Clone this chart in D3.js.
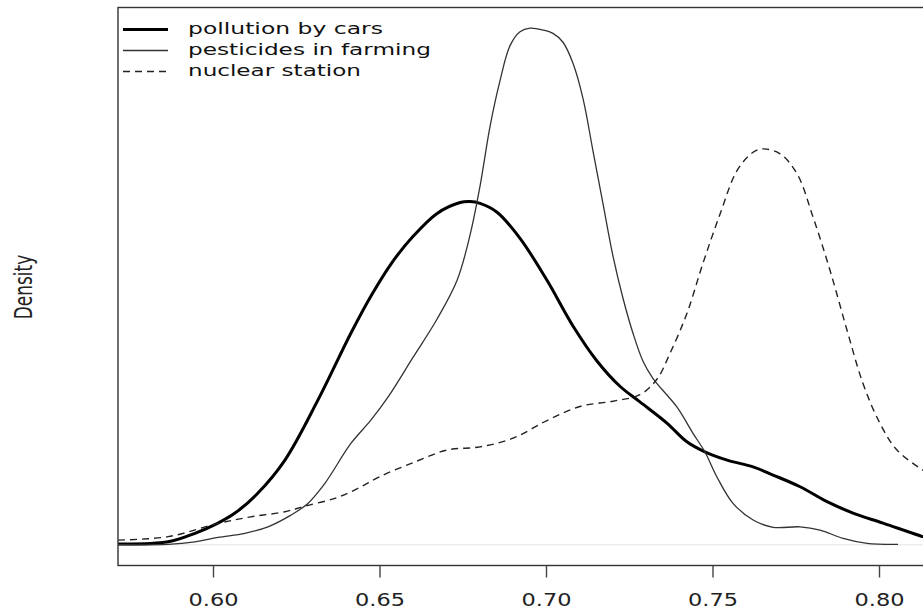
<!DOCTYPE html>
<html><head><meta charset="utf-8">
<script src="https://cdn.jsdelivr.net/npm/d3@7"></script>
<style>html,body{margin:0;padding:0;background:#fff;} svg{display:block;}</style>
</head><body>
<svg id="chart" width="923" height="613"></svg>
<script>
// ---- data ----
const xTicks = [0.60, 0.65, 0.70, 0.75, 0.80];
const xTickLabels = ["0.60", "0.65", "0.70", "0.75", "0.80"];
const seriesNames = ["pollution by cars", "pesticides in farming", "nuclear station"];
const yLabel = "Density";

const carsX = [0.5715,0.5865,0.5946,0.6015,0.6066,0.6135,0.6216,0.6315,0.6414,0.6474,0.6538,0.6601,0.6673,0.6742,0.6772,0.6802,0.6853,0.6922,0.7003,0.7081,0.7153,0.7222,0.7282,0.7363,0.7423,0.7477,0.7544,0.7622,0.7682,0.7763,0.7844,0.7922,0.8012,0.8132,0.8160];
const carsY = [0.05,0.18,0.68,1.28,1.87,3.05,4.99,8.52,12.46,14.64,16.64,18.17,19.52,20.16,20.22,20.11,19.59,18.05,15.58,12.89,10.83,9.34,8.42,7.17,6.07,5.48,4.99,4.59,4.11,3.42,2.54,1.87,1.28,0.48,0.34];

const pestX = [0.5715,0.5865,0.5946,0.6015,0.6096,0.6165,0.6234,0.6285,0.6336,0.6414,0.6474,0.6526,0.6601,0.6673,0.6733,0.6772,0.6802,0.6832,0.6862,0.6892,0.6922,0.6952,0.6991,0.7021,0.7051,0.7081,0.7111,0.7141,0.7171,0.7201,0.7231,0.7261,0.7291,0.7321,0.7393,0.7441,0.7477,0.7513,0.7561,0.7622,0.7682,0.7763,0.7823,0.7892,0.7964,0.8057];
const pestY = [0.01,0.03,0.18,0.44,0.68,1.06,1.75,2.44,3.62,5.97,7.34,8.71,11.05,13.30,15.58,18.25,21.14,24.65,27.34,29.40,30.22,30.43,30.32,30.12,29.60,28.36,26.30,23.21,20.11,17.02,14.54,12.48,10.83,9.81,8.12,6.58,5.48,4.01,2.46,1.46,1.03,1.06,0.87,0.38,0.09,0.03];

const nucX = [0.5715,0.5865,0.6015,0.6114,0.6216,0.6276,0.6366,0.6435,0.6501,0.6601,0.6703,0.6802,0.6901,0.7003,0.7102,0.7201,0.7282,0.7333,0.7372,0.7423,0.7471,0.7523,0.7574,0.7622,0.7652,0.7703,0.7754,0.7802,0.7853,0.7904,0.7952,0.8003,0.8054,0.8132,0.8160];
const nucY = [0.28,0.48,1.26,1.65,1.95,2.28,2.74,3.32,4.02,4.84,5.58,5.77,6.28,7.32,8.15,8.46,8.84,9.75,11.26,13.62,16.56,19.50,22.05,23.12,23.32,23.03,21.85,19.30,16.16,12.64,9.50,7.15,5.58,4.40,4.10];

// ---- layout ----
const svg = d3.select("#chart");
const plot = {left: 118, top: 7.5, bottom: 565.5};
const x = d3.scaleLinear().domain([0.60, 0.80]).range([213, 879]);
const plotRight = x(0.835);
const yMax = d3.max([...carsY, ...pestY, ...nucY]);
const y = d3.scaleLinear().domain([-0.04 * yMax, 1.04 * yMax]).range([plot.bottom, plot.top]);
const FONT = "'DejaVu Sans', sans-serif";

svg.append("defs").append("clipPath").attr("id", "clip")
  .append("rect").attr("x", plot.left).attr("y", plot.top)
  .attr("width", plotRight - plot.left).attr("height", plot.bottom - plot.top);

// zero line
svg.append("line")
  .attr("x1", plot.left).attr("x2", plotRight)
  .attr("y1", y(0)).attr("y2", y(0))
  .attr("stroke", "#e2e2e2").attr("stroke-width", 1);

const series = [
  {name: seriesNames[0], xs: carsX, ys: carsY, width: 3, color: "#000", dash: null},
  {name: seriesNames[1], xs: pestX, ys: pestY, width: 1.3, color: "#333", dash: null},
  {name: seriesNames[2], xs: nucX, ys: nucY, width: 1.4, color: "#222", dash: "7,5"}
];

const line = d3.line().x(d => x(d[0])).y(d => y(d[1])).curve(d3.curveCatmullRom.alpha(0.5));
const g = svg.append("g").attr("clip-path", "url(#clip)");
series.forEach(s => {
  g.append("path")
    .datum(s.xs.map((v, i) => [v, s.ys[i]]))
    .attr("d", line)
    .attr("fill", "none")
    .attr("stroke", s.color)
    .attr("stroke-width", s.width)
    .attr("stroke-dasharray", s.dash)
    .attr("stroke-linejoin", "round");
});

// box
svg.append("rect")
  .attr("x", plot.left).attr("y", plot.top)
  .attr("width", plotRight - plot.left).attr("height", plot.bottom - plot.top)
  .attr("fill", "none").attr("stroke", "#333").attr("stroke-width", 1.4);

// x axis
const ax = svg.append("g").attr("transform", `translate(0,${plot.bottom})`)
  .call(d3.axisBottom(x).tickValues(xTicks).tickFormat((d, i) => xTickLabels[i]).tickSize(12).tickSizeOuter(0));
ax.select(".domain").remove();
ax.selectAll(".tick line").attr("stroke", "#444").attr("stroke-width", 1.4);
ax.selectAll(".tick text")
  .attr("y", 40).attr("dy", null)
  .attr("font-family", FONT).attr("font-size", 17).attr("fill", "#222")
  .attr("textLength", 50).attr("lengthAdjust", "spacingAndGlyphs");

// y label
svg.append("text")
  .attr("transform", "translate(32,287) scale(1.5,1) rotate(-90)")
  .attr("text-anchor", "middle")
  .attr("font-family", FONT).attr("font-size", 17).attr("fill", "#222")
  .text(yLabel);

// legend
const legendRows = [29.5, 50.5, 71.5];
const legendWidths = [195, 243, 173];
series.forEach((s, i) => {
  svg.append("line")
    .attr("x1", 123).attr("x2", 168)
    .attr("y1", legendRows[i]).attr("y2", legendRows[i])
    .attr("stroke", s.color).attr("stroke-width", s.width)
    .attr("stroke-dasharray", s.dash);
  svg.append("text")
    .attr("x", 188).attr("y", legendRows[i] + 4.5)
    .attr("font-family", FONT).attr("font-size", 15.5).attr("fill", "#111")
    .attr("textLength", legendWidths[i]).attr("lengthAdjust", "spacingAndGlyphs")
    .text(s.name);
});
</script>
</body></html>
